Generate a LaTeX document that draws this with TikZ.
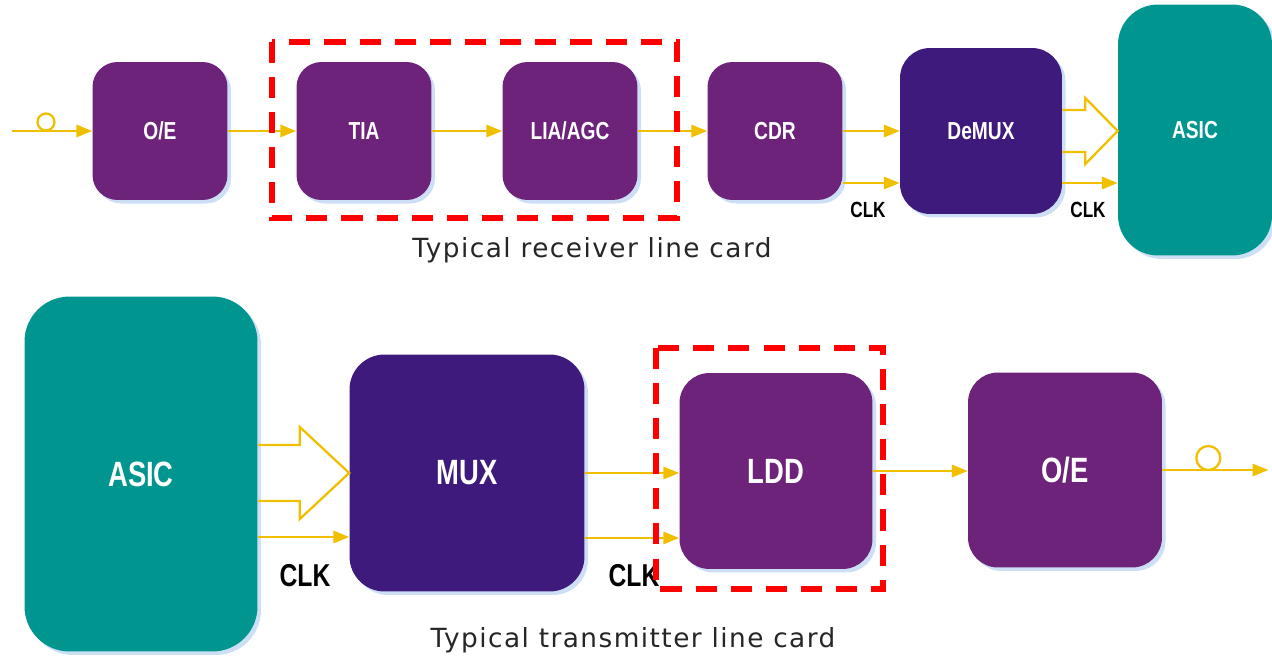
\documentclass[tikz,border=0pt]{standalone}
\usepackage{fontspec}
\setmainfont{Liberation Sans}
\newfontfamily\boxfont{Liberation Sans}[FakeStretch=0.78]
\newfontfamily\capfont{DejaVu Sans}[LetterSpace=5.5]
\usetikzlibrary{arrows.meta, positioning, calc, shadows}
\definecolor{chippurple}{HTML}{6E237A}
\definecolor{chipindigo}{HTML}{3E1A7C}
\definecolor{chipteal}{HTML}{00968F}
\definecolor{sigyellow}{HTML}{F0C000}
\definecolor{markred}{HTML}{FF0000}
\definecolor{glowblue}{HTML}{C6DCF4}
\tikzstyle{chip} = [rectangle, rounded corners=0.5cm, text=white, font=\boxfont\bfseries\fontsize{14}{16}\selectfont,
  drop shadow={shadow xshift=2pt, shadow yshift=-2pt, fill=glowblue, opacity=0.9}]
\tikzstyle{arr} = [-{Triangle[length=9pt,width=7pt]}, line width=1.3pt, color=sigyellow]

\begin{document}
\begin{tikzpicture}[x=0.02cm, y=-0.02cm,
    oe/.style={chip, fill=chippurple, minimum width=2.7cm, minimum height=2.76cm},
    big/.style={font=\boxfont\bfseries\fontsize{20}{24}\selectfont},
    bus/.style={line width=1.3pt, color=sigyellow, line join=miter},
    fiber/.style={line width=1.3pt, color=sigyellow},
    clk/.style={font=\boxfont\bfseries\fontsize{12.5}{14}\selectfont, text=black},
    bigclk/.style={font=\boxfont\bfseries\fontsize{18}{20}\selectfont, text=black},
    caption/.style={font=\capfont\fontsize{15}{17}\selectfont, text=black!85},
    dashbox/.style={draw=markred, line width=3.4pt, dash pattern=on 12pt off 8pt}
  ]
    \useasboundingbox (0,0) rectangle (1272,659);

    % -- receiver line card
    \node[oe] (oe1) at (160,131) {O/E};
    \node[oe] (tia) at (364,131) {TIA};
    \node[oe] (lia) at (570,131) {LIA/AGC};
    \node[oe] (cdr) at (775,131) {CDR};
    \node[chip, fill=chipindigo, rounded corners=0.6cm, minimum width=3.24cm, minimum height=3.32cm] (demux) at (981,131) {DeMUX};
    \node[chip, fill=chipteal, rounded corners=0.8cm, minimum width=3.08cm, minimum height=5.02cm] (asic1) at (1195,130) {ASIC};

    \coordinate (rxin) at (12,131);
    \draw[arr] (rxin) -- (oe1);
    \draw[fiber] ($(rxin)+(34,-9)$) circle[radius=0.17cm];
    \draw[arr] (oe1) -- (tia);
    \draw[arr] (tia) -- (lia);
    \draw[arr] (lia) -- (cdr);
    \draw[arr] (cdr) -- (demux);
    \coordinate (cdrclk) at ($(cdr.east)+(0,52)$);
    \draw[arr] (cdrclk) -- (cdrclk -| demux.west);
    \node[clk] (clk1) at (868,210) {CLK};

    \draw[bus] ($(demux.east)+(0,-21)$) -- ++(23,0) -- ++(0,-12) -- (demux.east -| asic1.west)
      -- ($(demux.east)+(23,33)$) -- ++(0,-12) -- ($(demux.east)+(0,21)$);
    \coordinate (dmxclk) at ($(demux.east)+(0,52)$);
    \draw[arr] (dmxclk) -- (dmxclk -| asic1.west);
    \node[clk] (clk2) at (1088,210) {CLK};

    \draw[dashbox] ($(tia.north west)+(-24,-20)$) rectangle ($(lia.south east)+(39,18)$);
    \node[caption] (rxcap) at (592,250) {Typical receiver line card};

    % -- transmitter line card
    \node[chip, big, fill=chipteal, rounded corners=0.9cm, minimum width=4.66cm, minimum height=7.1cm] (asic2) at (141,474) {ASIC};
    \node[chip, big, fill=chipindigo, rounded corners=0.7cm, minimum width=4.7cm, minimum height=4.74cm] (mux) at (467,473) {MUX};
    \node[chip, big, fill=chippurple, rounded corners=0.6cm, minimum width=3.86cm, minimum height=3.92cm] (ldd) at (776,471) {LDD};
    \node[chip, big, fill=chippurple, rounded corners=0.6cm, minimum width=3.88cm, minimum height=3.9cm] (oe2) at (1065,470) {O/E};

    \coordinate (asicout) at (asic2.east |- mux.west);
    \draw[bus] ($(asicout)+(0,-28)$) -- ++(42,0) -- ++(0,-18) -- (mux.west)
      -- ($(asicout)+(42,46)$) -- ++(0,-18) -- ($(asicout)+(0,28)$);
    \coordinate (asicclk) at ($(asicout)+(0,64)$);
    \draw[arr] (asicclk) -- (asicclk -| mux.west);
    \node[bigclk] (clk3) at (305,576) {CLK};

    \draw[arr] (mux.east) -- (mux.east -| ldd.west);
    \coordinate (muxclk) at ($(mux.east)+(0,65)$);
    \draw[arr] (muxclk) -- (muxclk -| ldd.west);
    \node[bigclk] (clk4) at (634,576) {CLK};

    \draw[arr] (ldd.east) -- (ldd.east -| oe2.west);
    \coordinate (txout) at ($(oe2.east)+(106,0)$);
    \draw[arr] (oe2.east) -- (txout);
    \draw[fiber] ($(oe2.east)+(46,-12)$) circle[radius=0.24cm];

    \draw[dashbox] ($(ldd.north west)+(-23,-25)$) rectangle ($(ldd.south east)+(10,20)$);
    \node[caption] (txcap) at (633,640) {Typical transmitter line card};
  \end{tikzpicture}
\end{document}
